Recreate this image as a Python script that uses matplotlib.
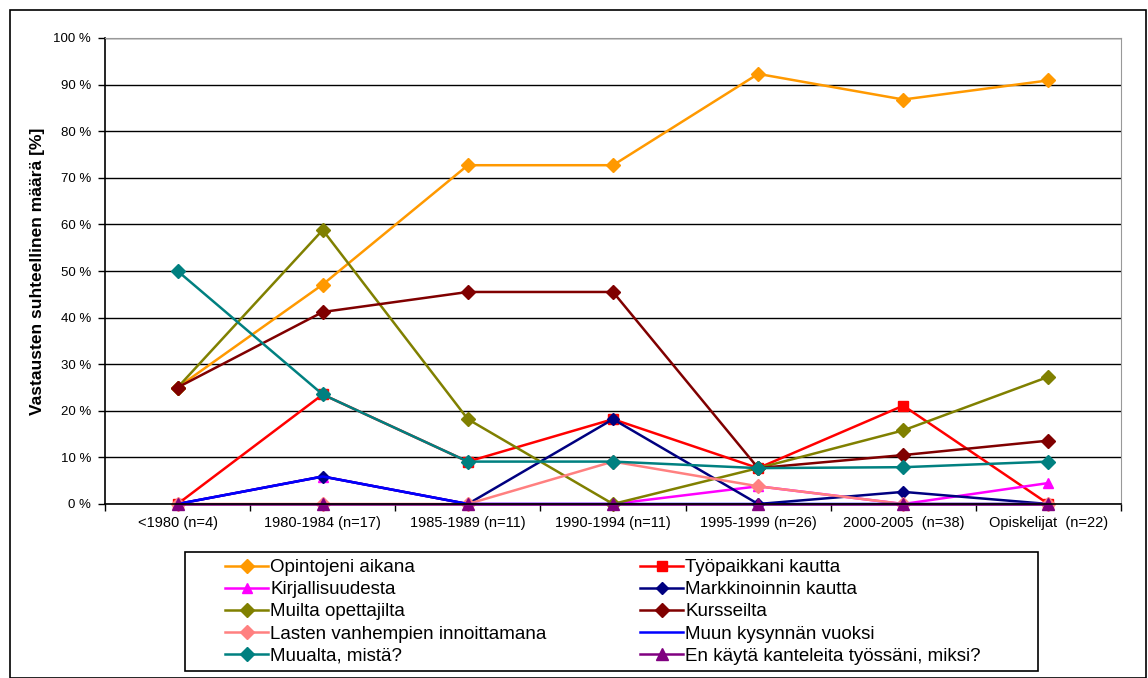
import numpy as np
import matplotlib
matplotlib.use('Agg')
import matplotlib.pyplot as plt
from matplotlib.patches import Rectangle

plt.rcParams['font.family'] = ['Liberation Sans', 'DejaVu Sans']

categories = ['<1980 (n=4)', '1980-1984 (n=17)', '1985-1989 (n=11)', '1990-1994 (n=11)',
              '1995-1999 (n=26)', '2000-2005  (n=38)', 'Opiskelijat  (n=22)']

opintojeni = [25.0, 47.1, 72.7, 72.7, 92.3, 86.8, 90.9]
tyopaikka = [0.0, 23.5, 9.1, 18.2, 7.7, 21.1, 0.0]
kirjallisuus = [0.0, 5.9, 0.0, 0.0, 3.8, 0.0, 4.5]
markkinointi = [0.0, 5.9, 0.0, 18.2, 0.0, 2.6, 0.0]
muilta_opettajilta = [25.0, 58.8, 18.2, 0.0, 7.7, 15.8, 27.3]
kursseilta = [25.0, 41.2, 45.5, 45.5, 7.7, 10.5, 13.6]
lasten_vanhemmat = [0.0, 0.0, 0.0, 9.1, 3.8, 0.0, 0.0]
muu_kysynta = [0.0, 5.9, 0.0, 0.0, 0.0, 0.0, 0.0]
muualta = [50.0, 23.5, 9.1, 9.1, 7.7, 7.9, 9.1]
en_kayta = [0.0, 0.0, 0.0, 0.0, 0.0, 0.0, 0.0]

# label, values, colour, marker, markersize (legend order, row by row)
series = [
    ('Opintojeni aikana', opintojeni, '#FF9900', 'D', 7),
    ('Työpaikkani kautta', tyopaikka, '#FF0000', 's', 6.5),
    ('Kirjallisuudesta', kirjallisuus, '#FF00FF', '^', 7.5),
    ('Markkinoinnin kautta', markkinointi, '#000080', 'D', 6),
    ('Muilta opettajilta', muilta_opettajilta, '#808000', 'D', 7),
    ('Kursseilta', kursseilta, '#800000', 'D', 7),
    ('Lasten vanhempien innoittamana', lasten_vanhemmat, '#FF8080', 'D', 7),
    ('Muun kysynnän vuoksi', muu_kysynta, '#0000FF', 'None', 0),
    ('Muualta, mistä?', muualta, '#008080', 'D', 7),
    ('En käytä kanteleita työssäni, miksi?', en_kayta, '#800080', '^', 8),
]

W, H = 1148, 678
fig = plt.figure(figsize=(W/100, H/100), dpi=100)
# outer chart frame
fig.patches.append(Rectangle((10/W, 0), 1136/W, 1 - 10/H, transform=fig.transFigure,
                             fill=False, edgecolor='black', linewidth=1.2))

ax = fig.add_axes([105/W, 1 - 504/H, (1121 - 105)/W, (504 - 38)/H])
x = np.arange(len(categories))

handles = {}
for label, vals, col, mk, ms in series:
    ln, = ax.plot(x, vals, color=col, linewidth=1.8, marker=mk, markersize=ms,
                  markeredgecolor=col, markerfacecolor=col, label=label, clip_on=False)
    handles[label] = ln

ax.set_xlim(-0.5, len(categories) - 0.5)
ax.set_ylim(0, 100)
ax.set_yticks(np.arange(0, 101, 10))
ax.set_yticklabels([f'{v} %' for v in range(0, 101, 10)], fontsize=9.5)
ax.grid(axis='y', color='black', linewidth=1.0)
ax.set_axisbelow(True)

ax.set_xticks(x)
ax.set_xticklabels(categories, fontsize=10.5)
ax.set_xticks(np.arange(-0.5, len(categories), 1), minor=True)
ax.tick_params(axis='x', which='major', length=0, pad=9)
ax.tick_params(axis='x', which='minor', length=5, width=1, direction='out')
ax.tick_params(axis='y', length=5, width=1, direction='out', pad=5)

for side in ('top', 'right'):
    ax.spines[side].set_color('#999999')
for side in ('left', 'bottom'):
    ax.spines[side].set_color('black')
    ax.spines[side].set_linewidth(1.2)

ax.set_ylabel('Vastausten suhteellinen määrä [%]', fontsize=12.5, fontweight='bold', labelpad=6)

# legend box drawn separately, entries placed inside it
fig.patches.append(Rectangle((185/W, 1 - 671/H), (1038 - 185)/W, (671 - 552)/H,
                             transform=fig.transFigure, fill=False, edgecolor='black',
                             linewidth=1.2, zorder=1))
order = [s[0] for s in series]
leg_labels = order[0::2] + order[1::2]   # legend fills column-wise
leg = fig.legend([handles[l] for l in leg_labels], leg_labels, ncol=2,
                 loc='upper left', bbox_to_anchor=(225/W, 1 - 559/H),
                 fontsize=13.5, frameon=False, borderaxespad=0, borderpad=0,
                 handlelength=2.3, handletextpad=0.1, labelspacing=0.27,
                 columnspacing=5.0)

fig.savefig('out.png', dpi=100)
